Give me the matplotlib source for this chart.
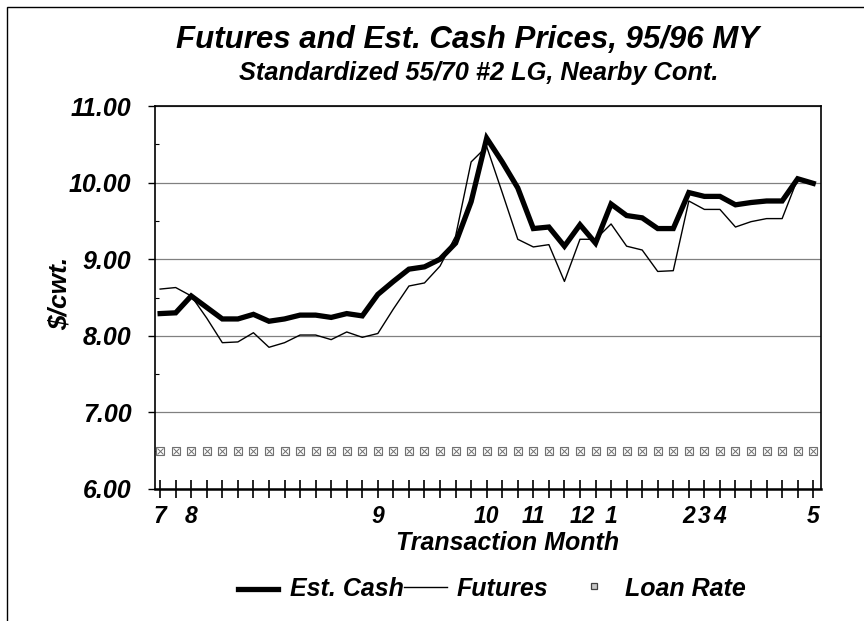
import matplotlib
matplotlib.use("Agg")
import matplotlib.pyplot as plt
from matplotlib.lines import Line2D
from matplotlib.patches import Rectangle
from matplotlib.ticker import MultipleLocator

FONT = ['Liberation Sans Narrow', 'Liberation Sans', 'DejaVu Sans']
plt.rcParams['font.family'] = FONT

# weekly observations, 7/95 .. 5/96
est_cash = [8.29, 8.30, 8.52, 8.37, 8.22, 8.22, 8.28, 8.19, 8.22, 8.27,
            8.27, 8.24, 8.29, 8.26, 8.54, 8.71, 8.87, 8.90, 9.00, 9.21,
            9.75, 10.58, 10.27, 9.93, 9.40, 9.42, 9.17, 9.45, 9.21, 9.72,
            9.57, 9.54, 9.40, 9.40, 9.87, 9.82, 9.82, 9.71, 9.74, 9.76,
            9.76, 10.05, 9.99]
futures = [8.61, 8.63, 8.52, 8.23, 7.91, 7.92, 8.04, 7.85, 7.91, 8.01,
           8.01, 7.95, 8.05, 7.98, 8.03, 8.35, 8.65, 8.69, 8.91, 9.30,
           10.27, 10.47, 9.87, 9.26, 9.16, 9.19, 8.71, 9.26, 9.26, 9.46,
           9.17, 9.12, 8.84, 8.85, 9.76, 9.65, 9.65, 9.42, 9.49, 9.53,
           9.53, 10.05, 9.99]
loan_rate = [6.50] * len(est_cash)
weeks = list(range(len(est_cash)))

month_pos = [0, 2, 14, 21, 24, 28, 29, 34, 35, 36, 42]
month_lbl = ['7', '8', '9', '10', '11', '12', '1', '2', '3', '4', '5']

fig = plt.figure(figsize=(8.64, 6.21), dpi=100)
ax = fig.add_axes([155/864, 1-489/621, 666/864, 383/621])

ax.plot(weeks, est_cash, color='black', lw=3.8, solid_joinstyle='miter', zorder=4)
ax.plot(weeks, futures, color='black', lw=1.0, zorder=3)
ax.plot(weeks, loan_rate, ls='none', marker='s', ms=6, mfc='white', mec='#707070', mew=0.8, zorder=3)
ax.plot(weeks, loan_rate, ls='none', marker='x', ms=4, mec='#707070', mew=0.7, zorder=3)

ax.set_xlim(-0.33, 42.5)
ax.set_ylim(6, 11)
ax.yaxis.set_major_locator(MultipleLocator(1))
ax.yaxis.set_minor_locator(MultipleLocator(0.5))
ax.set_yticklabels([f'{v:.2f}' for v in ax.get_yticks()])
ax.grid(axis='y', color='#808080', lw=0.9)
ax.set_axisbelow(True)

ax.set_xticks(weeks, minor=True)
ax.set_xticks(month_pos)
ax.set_xticklabels(month_lbl)
ax.tick_params(axis='x', which='both', direction='inout', length=13, width=1.2, pad=5)
ax.tick_params(axis='y', which='major', direction='out', length=5, width=1, pad=12)
ax.tick_params(axis='y', which='minor', direction='in', length=3, width=0.8)
for lab in ax.get_xticklabels():
    lab.set_fontsize(16.5)
    lab.set_fontweight('bold')
    lab.set_fontstyle('italic')
    if lab.get_text() == '12':
        lab.set_ha('right')   # "12" and "1" sit on neighbouring weeks
for lab in ax.get_yticklabels():
    lab.set_fontsize(18)
    lab.set_fontweight('bold')
    lab.set_fontstyle('italic')

for s in ['left', 'right', 'top']:
    ax.spines[s].set_linewidth(1.2)
ax.spines['bottom'].set_linewidth(1.8)

ax.set_ylabel('$/cwt.', fontsize=19, fontweight='bold', fontstyle='italic')
ax.yaxis.set_label_coords(-0.125, 0.51)

fig.text(468/864, 0.935, 'Futures and Est. Cash Prices, 95/96 MY', ha='center', va='center',
         fontsize=22.5, fontweight='bold', fontstyle='italic')
fig.text(479/864, 0.882, 'Standardized 55/70 #2 LG, Nearby Cont.', ha='center', va='center',
         fontsize=18.3, fontweight='bold', fontstyle='italic')
fig.text(508/864, 1-543/621, 'Transaction Month', ha='center', va='center',
         fontsize=18, fontweight='bold', fontstyle='italic')

# legend row
ly = 1 - 589/621
fig.add_artist(Line2D([238/864, 278/864], [ly, ly], color='black', lw=3.8))
fig.text(290/864, ly, 'Est. Cash', ha='left', va='center', fontsize=18, fontweight='bold', fontstyle='italic')
fig.add_artist(Line2D([404/864, 447/864], [ly + 0.004, ly + 0.004], color='black', lw=1.0))
fig.text(457/864, ly, 'Futures', ha='left', va='center', fontsize=18, fontweight='bold', fontstyle='italic')
fig.add_artist(Line2D([594/864], [1 - 586/621], ls='none', marker='s', ms=5, mfc='#c8c8c8',
                      mec='#404040', mew=0.9))
fig.text(625/864, ly, 'Loan Rate', ha='left', va='center', fontsize=18, fontweight='bold', fontstyle='italic')

# outer frame
fig.add_artist(Rectangle((7/864, -0.1), 1.2, 1 - 7/621 + 0.1, transform=fig.transFigure,
                         fill=False, ec='black', lw=1.0))

fig.savefig('out.png', dpi=100)
